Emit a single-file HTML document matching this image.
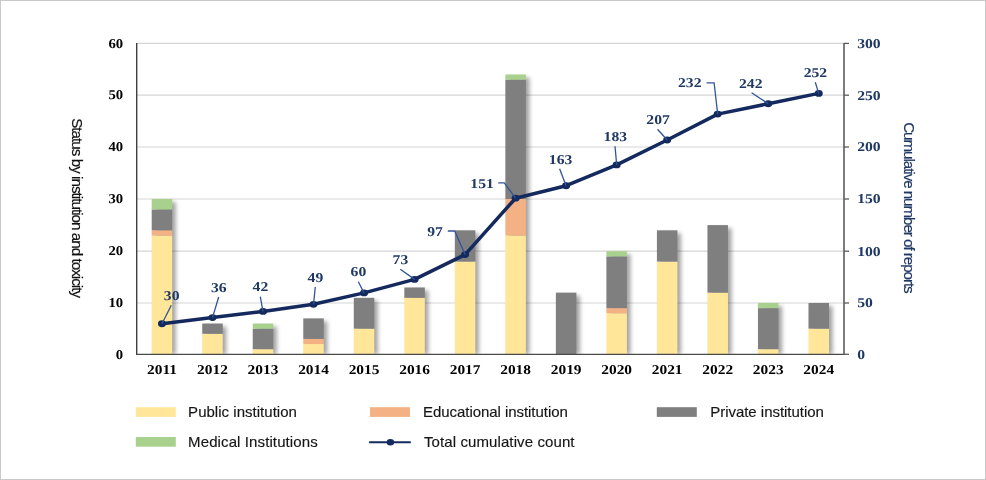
<!DOCTYPE html>
<html lang="en"><head><meta charset="utf-8"><title>Status by institution and toxicity</title>
<style>
html,body{margin:0;padding:0;background:#fff;}
body{width:986px;height:480px;overflow:hidden;}
svg{display:block;}
.t{font-family:"Liberation Serif","DejaVu Serif",serif;font-weight:bold;font-size:13.5px;text-rendering:geometricPrecision;}
.s{font-family:"Liberation Sans","DejaVu Sans",sans-serif;}
</style></head><body>
<svg width="986" height="480" viewBox="0 0 986 480">
<defs><filter id="sh" x="-30%" y="-5%" width="180%" height="115%"><feGaussianBlur stdDeviation="2.1"/></filter></defs>
<rect x="0" y="0" width="986" height="480" fill="#fff"/>
<rect x="0.5" y="0.5" width="985" height="479" fill="none" stroke="#c9c9c9" stroke-width="1"/>

<line x1="136.7" y1="303.00" x2="844.0" y2="303.00" stroke="#d6d6d6" stroke-width="1.2"/>
<line x1="136.7" y1="251.20" x2="844.0" y2="251.20" stroke="#d6d6d6" stroke-width="1.2"/>
<line x1="136.7" y1="199.00" x2="844.0" y2="199.00" stroke="#d6d6d6" stroke-width="1.2"/>
<line x1="136.7" y1="147.00" x2="844.0" y2="147.00" stroke="#d6d6d6" stroke-width="1.2"/>
<line x1="136.7" y1="95.20" x2="844.0" y2="95.20" stroke="#d6d6d6" stroke-width="1.2"/>
<line x1="136.7" y1="43.40" x2="844.0" y2="43.40" stroke="#d6d6d6" stroke-width="1.2"/>
<clipPath id="cp"><rect x="136.7" y="0" width="707.3" height="354.3"/></clipPath>
<g clip-path="url(#cp)"><g filter="url(#sh)" fill="#000" opacity="0.36">
<rect x="155.31" y="202.00" width="20.50" height="152.30"/>
<rect x="205.83" y="326.52" width="20.50" height="27.78"/>
<rect x="256.35" y="326.52" width="20.50" height="27.78"/>
<rect x="306.88" y="321.39" width="20.50" height="32.91"/>
<rect x="357.40" y="300.82" width="20.50" height="53.48"/>
<rect x="407.92" y="290.46" width="20.50" height="63.84"/>
<rect x="458.44" y="233.32" width="20.50" height="120.98"/>
<rect x="508.96" y="77.48" width="20.50" height="276.82"/>
<rect x="559.48" y="295.64" width="20.50" height="58.66"/>
<rect x="610.00" y="254.20" width="20.50" height="100.10"/>
<rect x="660.52" y="233.32" width="20.50" height="120.98"/>
<rect x="711.05" y="228.10" width="20.50" height="126.20"/>
<rect x="761.57" y="306.00" width="20.50" height="48.30"/>
<rect x="812.09" y="306.00" width="20.50" height="48.30"/>
</g></g>
<rect x="151.71" y="235.54" width="20.50" height="118.76" fill="#FFE699"/>
<rect x="151.71" y="230.32" width="20.50" height="5.22" fill="#F4B183"/>
<rect x="151.71" y="209.44" width="20.50" height="20.88" fill="#7F7F7F"/>
<rect x="151.71" y="199.00" width="20.50" height="10.44" fill="#A9D18E"/>
<rect x="202.23" y="333.78" width="20.50" height="20.52" fill="#FFE699"/>
<rect x="202.23" y="323.52" width="20.50" height="10.26" fill="#7F7F7F"/>
<rect x="252.75" y="349.17" width="20.50" height="5.13" fill="#FFE699"/>
<rect x="252.75" y="328.65" width="20.50" height="20.52" fill="#7F7F7F"/>
<rect x="252.75" y="323.52" width="20.50" height="5.13" fill="#A9D18E"/>
<rect x="303.27" y="344.04" width="20.50" height="10.26" fill="#FFE699"/>
<rect x="303.27" y="338.91" width="20.50" height="5.13" fill="#F4B183"/>
<rect x="303.27" y="318.39" width="20.50" height="20.52" fill="#7F7F7F"/>
<rect x="353.80" y="328.65" width="20.50" height="25.65" fill="#FFE699"/>
<rect x="353.80" y="297.82" width="20.50" height="30.83" fill="#7F7F7F"/>
<rect x="404.32" y="297.82" width="20.50" height="56.48" fill="#FFE699"/>
<rect x="404.32" y="287.46" width="20.50" height="10.36" fill="#7F7F7F"/>
<rect x="454.84" y="261.56" width="20.50" height="92.74" fill="#FFE699"/>
<rect x="454.84" y="230.32" width="20.50" height="31.24" fill="#7F7F7F"/>
<rect x="505.36" y="235.54" width="20.50" height="118.76" fill="#FFE699"/>
<rect x="505.36" y="199.00" width="20.50" height="36.54" fill="#F4B183"/>
<rect x="505.36" y="79.66" width="20.50" height="119.34" fill="#7F7F7F"/>
<rect x="505.36" y="74.48" width="20.50" height="5.18" fill="#A9D18E"/>
<rect x="555.88" y="292.64" width="20.50" height="61.66" fill="#7F7F7F"/>
<rect x="606.40" y="313.26" width="20.50" height="41.04" fill="#FFE699"/>
<rect x="606.40" y="308.13" width="20.50" height="5.13" fill="#F4B183"/>
<rect x="606.40" y="256.38" width="20.50" height="51.75" fill="#7F7F7F"/>
<rect x="606.40" y="251.20" width="20.50" height="5.18" fill="#A9D18E"/>
<rect x="656.92" y="261.56" width="20.50" height="92.74" fill="#FFE699"/>
<rect x="656.92" y="230.32" width="20.50" height="31.24" fill="#7F7F7F"/>
<rect x="707.45" y="292.64" width="20.50" height="61.66" fill="#FFE699"/>
<rect x="707.45" y="225.10" width="20.50" height="67.54" fill="#7F7F7F"/>
<rect x="757.97" y="349.17" width="20.50" height="5.13" fill="#FFE699"/>
<rect x="757.97" y="308.13" width="20.50" height="41.04" fill="#7F7F7F"/>
<rect x="757.97" y="303.00" width="20.50" height="5.13" fill="#A9D18E"/>
<rect x="808.49" y="328.65" width="20.50" height="25.65" fill="#FFE699"/>
<rect x="808.49" y="303.00" width="20.50" height="25.65" fill="#7F7F7F"/>
<line x1="136.7" y1="42.9" x2="136.7" y2="355.0" stroke="#404040" stroke-width="1.4"/>
<line x1="136.0" y1="354.3" x2="844.7" y2="354.3" stroke="#4a4a4a" stroke-width="1.2"/>
<line x1="844.0" y1="42.9" x2="844.0" y2="355.0" stroke="#5c5c5c" stroke-width="1.6"/>
<line x1="844.0" y1="354.30" x2="849.0" y2="354.30" stroke="#5c5c5c" stroke-width="1.3"/>
<line x1="844.0" y1="303.00" x2="849.0" y2="303.00" stroke="#5c5c5c" stroke-width="1.3"/>
<line x1="844.0" y1="251.20" x2="849.0" y2="251.20" stroke="#5c5c5c" stroke-width="1.3"/>
<line x1="844.0" y1="199.00" x2="849.0" y2="199.00" stroke="#5c5c5c" stroke-width="1.3"/>
<line x1="844.0" y1="147.00" x2="849.0" y2="147.00" stroke="#5c5c5c" stroke-width="1.3"/>
<line x1="844.0" y1="95.20" x2="849.0" y2="95.20" stroke="#5c5c5c" stroke-width="1.3"/>
<line x1="844.0" y1="43.40" x2="849.0" y2="43.40" stroke="#5c5c5c" stroke-width="1.3"/>
<text class="t" transform="translate(123.20,358.50) scale(1.09,1)" text-anchor="end" fill="#000">0</text>
<text class="t" transform="translate(857.20,358.65) scale(1.16,1)" text-anchor="start" fill="#1F3864">0</text>
<text class="t" transform="translate(123.20,307.20) scale(1.09,1)" text-anchor="end" fill="#000">10</text>
<text class="t" transform="translate(857.20,307.35) scale(1.16,1)" text-anchor="start" fill="#1F3864">50</text>
<text class="t" transform="translate(123.20,255.40) scale(1.09,1)" text-anchor="end" fill="#000">20</text>
<text class="t" transform="translate(857.20,255.55) scale(1.16,1)" text-anchor="start" fill="#1F3864">100</text>
<text class="t" transform="translate(123.20,203.20) scale(1.09,1)" text-anchor="end" fill="#000">30</text>
<text class="t" transform="translate(857.20,203.35) scale(1.16,1)" text-anchor="start" fill="#1F3864">150</text>
<text class="t" transform="translate(123.20,151.20) scale(1.09,1)" text-anchor="end" fill="#000">40</text>
<text class="t" transform="translate(857.20,151.35) scale(1.16,1)" text-anchor="start" fill="#1F3864">200</text>
<text class="t" transform="translate(123.20,99.40) scale(1.09,1)" text-anchor="end" fill="#000">50</text>
<text class="t" transform="translate(857.20,99.55) scale(1.16,1)" text-anchor="start" fill="#1F3864">250</text>
<text class="t" transform="translate(123.20,47.60) scale(1.09,1)" text-anchor="end" fill="#000">60</text>
<text class="t" transform="translate(857.20,47.75) scale(1.16,1)" text-anchor="start" fill="#1F3864">300</text>
<text class="t" transform="translate(161.96,374.20) scale(1.14,1)" text-anchor="middle" fill="#000">2011</text>
<text class="t" transform="translate(212.48,374.20) scale(1.14,1)" text-anchor="middle" fill="#000">2012</text>
<text class="t" transform="translate(263.00,374.20) scale(1.14,1)" text-anchor="middle" fill="#000">2013</text>
<text class="t" transform="translate(313.52,374.20) scale(1.14,1)" text-anchor="middle" fill="#000">2014</text>
<text class="t" transform="translate(364.05,374.20) scale(1.14,1)" text-anchor="middle" fill="#000">2015</text>
<text class="t" transform="translate(414.57,374.20) scale(1.14,1)" text-anchor="middle" fill="#000">2016</text>
<text class="t" transform="translate(465.09,374.20) scale(1.14,1)" text-anchor="middle" fill="#000">2017</text>
<text class="t" transform="translate(515.61,374.20) scale(1.14,1)" text-anchor="middle" fill="#000">2018</text>
<text class="t" transform="translate(566.13,374.20) scale(1.14,1)" text-anchor="middle" fill="#000">2019</text>
<text class="t" transform="translate(616.65,374.20) scale(1.14,1)" text-anchor="middle" fill="#000">2020</text>
<text class="t" transform="translate(667.17,374.20) scale(1.14,1)" text-anchor="middle" fill="#000">2021</text>
<text class="t" transform="translate(717.70,374.20) scale(1.14,1)" text-anchor="middle" fill="#000">2022</text>
<text class="t" transform="translate(768.22,374.20) scale(1.14,1)" text-anchor="middle" fill="#000">2023</text>
<text class="t" transform="translate(818.74,374.20) scale(1.14,1)" text-anchor="middle" fill="#000">2024</text>
<polyline points="161.96,323.77 212.48,317.61 263.00,311.46 313.52,304.28 364.05,292.89 414.57,279.42 465.09,254.56 515.61,198.21 566.13,185.73 616.65,164.93 667.17,140.00 717.70,114.10 768.22,103.74 818.74,93.38" fill="none" stroke="#142A5E" stroke-width="3.5" stroke-linejoin="round" stroke-linecap="round"/>
<ellipse cx="161.96" cy="323.77" rx="4.0" ry="3.4" fill="#142A5E"/>
<ellipse cx="212.48" cy="317.61" rx="4.0" ry="3.4" fill="#142A5E"/>
<ellipse cx="263.00" cy="311.46" rx="4.0" ry="3.4" fill="#142A5E"/>
<ellipse cx="313.52" cy="304.28" rx="4.0" ry="3.4" fill="#142A5E"/>
<ellipse cx="364.05" cy="292.89" rx="4.0" ry="3.4" fill="#142A5E"/>
<ellipse cx="414.57" cy="279.42" rx="4.0" ry="3.4" fill="#142A5E"/>
<ellipse cx="465.09" cy="254.56" rx="4.0" ry="3.4" fill="#142A5E"/>
<ellipse cx="515.61" cy="198.21" rx="4.0" ry="3.4" fill="#142A5E"/>
<ellipse cx="566.13" cy="185.73" rx="4.0" ry="3.4" fill="#142A5E"/>
<ellipse cx="616.65" cy="164.93" rx="4.0" ry="3.4" fill="#142A5E"/>
<ellipse cx="667.17" cy="140.00" rx="4.0" ry="3.4" fill="#142A5E"/>
<ellipse cx="717.70" cy="114.10" rx="4.0" ry="3.4" fill="#142A5E"/>
<ellipse cx="768.22" cy="103.74" rx="4.0" ry="3.4" fill="#142A5E"/>
<ellipse cx="818.74" cy="93.38" rx="4.0" ry="3.4" fill="#142A5E"/>
<polyline points="171.3,305.3 162.0,323.8" fill="none" stroke="#2F5597" stroke-width="1.3"/>
<text class="t" transform="translate(163.80,300.30) scale(1.16,1)" text-anchor="start" fill="#1F3864">30</text>
<polyline points="218.7,297.0 212.5,317.6" fill="none" stroke="#2F5597" stroke-width="1.3"/>
<text class="t" transform="translate(210.90,291.70) scale(1.16,1)" text-anchor="start" fill="#1F3864">36</text>
<polyline points="260.3,296.7 263.0,311.5" fill="none" stroke="#2F5597" stroke-width="1.3"/>
<text class="t" transform="translate(252.60,291.30) scale(1.16,1)" text-anchor="start" fill="#1F3864">42</text>
<polyline points="315.3,287.0 313.5,304.3" fill="none" stroke="#2F5597" stroke-width="1.3"/>
<text class="t" transform="translate(307.60,281.70) scale(1.16,1)" text-anchor="start" fill="#1F3864">49</text>
<polyline points="358.3,281.7 364.0,292.9" fill="none" stroke="#2F5597" stroke-width="1.3"/>
<text class="t" transform="translate(350.60,276.30) scale(1.16,1)" text-anchor="start" fill="#1F3864">60</text>
<polyline points="400.3,269.2 414.6,279.4" fill="none" stroke="#2F5597" stroke-width="1.3"/>
<text class="t" transform="translate(392.60,264.20) scale(1.16,1)" text-anchor="start" fill="#1F3864">73</text>
<polyline points="447.8,231.0 454.7,231.0 465.1,254.6" fill="none" stroke="#2F5597" stroke-width="1.3"/>
<text class="t" transform="translate(427.20,235.60) scale(1.16,1)" text-anchor="start" fill="#1F3864">97</text>
<polyline points="498.2,182.9 504.3,182.9 515.6,198.2" fill="none" stroke="#2F5597" stroke-width="1.3"/>
<text class="t" transform="translate(470.30,187.50) scale(1.16,1)" text-anchor="start" fill="#1F3864">151</text>
<polyline points="559.6,168.8 566.1,185.7" fill="none" stroke="#2F5597" stroke-width="1.3"/>
<text class="t" transform="translate(548.80,163.50) scale(1.16,1)" text-anchor="start" fill="#1F3864">163</text>
<polyline points="615.0,146.3 616.7,164.9" fill="none" stroke="#2F5597" stroke-width="1.3"/>
<text class="t" transform="translate(603.60,140.60) scale(1.16,1)" text-anchor="start" fill="#1F3864">183</text>
<polyline points="657.5,129.2 667.2,140.0" fill="none" stroke="#2F5597" stroke-width="1.3"/>
<text class="t" transform="translate(646.30,124.00) scale(1.16,1)" text-anchor="start" fill="#1F3864">207</text>
<polyline points="706.6,82.8 714.1,82.8 717.7,114.1" fill="none" stroke="#2F5597" stroke-width="1.3"/>
<text class="t" transform="translate(678.00,86.90) scale(1.16,1)" text-anchor="start" fill="#1F3864">232</text>
<polyline points="751.6,92.8 768.2,103.7" fill="none" stroke="#2F5597" stroke-width="1.3"/>
<text class="t" transform="translate(739.00,87.50) scale(1.16,1)" text-anchor="start" fill="#1F3864">242</text>
<polyline points="815.3,82.3 818.7,93.4" fill="none" stroke="#2F5597" stroke-width="1.3"/>
<text class="t" transform="translate(803.70,77.20) scale(1.16,1)" text-anchor="start" fill="#1F3864">252</text>
<text class="s" font-size="15.2" fill="#111" stroke="#111" stroke-width="0.2" letter-spacing="-0.9" transform="translate(71.9,118.2) rotate(90)" textLength="179" lengthAdjust="spacing">Status by institution and toxicity</text>
<text class="s" font-size="15.2" fill="#1F3864" stroke="#1F3864" stroke-width="0.2" letter-spacing="-0.9" transform="translate(903.9,122.2) rotate(90)" textLength="170.6" lengthAdjust="spacing">Cumulative number of reports</text>
<rect x="135.8" y="407.2" width="40" height="9.7" fill="#FFE699"/>
<rect x="370.0" y="407.2" width="40" height="9.7" fill="#F4B183"/>
<rect x="656.8" y="407.2" width="40" height="9.7" fill="#7F7F7F"/>
<rect x="135.8" y="437.0" width="40" height="9.7" fill="#A9D18E"/>
<line x1="369.1" y1="442.2" x2="410.8" y2="442.2" stroke="#142A5E" stroke-width="2"/>
<ellipse cx="390.4" cy="442.2" rx="3.7" ry="3.3" fill="#142A5E"/>
<text class="s" font-size="15" fill="#151515" stroke="#151515" stroke-width="0.15" x="188.1" y="416.8" textLength="108.8" lengthAdjust="spacing">Public institution</text>
<text class="s" font-size="15" fill="#151515" stroke="#151515" stroke-width="0.15" x="423.0" y="416.8" textLength="144.8" lengthAdjust="spacing">Educational institution</text>
<text class="s" font-size="15" fill="#151515" stroke="#151515" stroke-width="0.15" x="710.2" y="416.8" textLength="113.7" lengthAdjust="spacing">Private institution</text>
<text class="s" font-size="15" fill="#151515" stroke="#151515" stroke-width="0.15" x="188.1" y="446.8" textLength="129.6" lengthAdjust="spacing">Medical Institutions</text>
<text class="s" font-size="15" fill="#151515" stroke="#151515" stroke-width="0.15" x="423.9" y="446.8" textLength="150.6" lengthAdjust="spacing">Total cumulative count</text>
</svg></body></html>
